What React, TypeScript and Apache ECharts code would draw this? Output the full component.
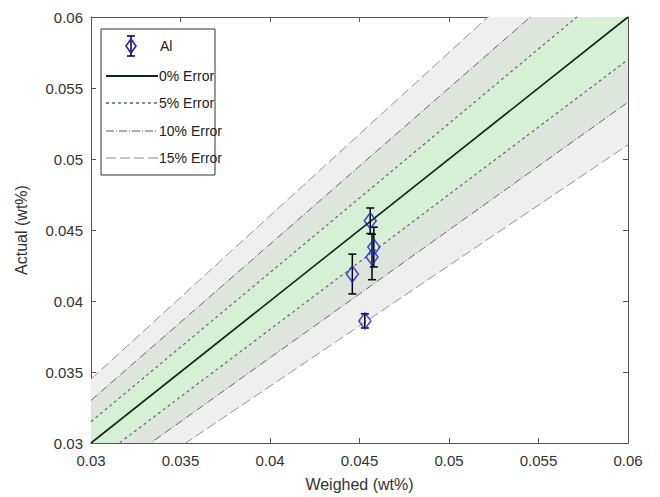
import React, { useEffect, useRef } from "react";
import * as echarts from "echarts";

// Axis ticks
const axisMin = 0.03;
const axisMax = 0.06;
const axisStep = 0.005;

// Error reference levels (%)
const errorLevels = [0, 5, 10, 15];
const errorNames = ["0% Error", "5% Error", "10% Error", "15% Error"];

// Al measurements
const weighed = [0.0456, 0.0458, 0.0457, 0.0446, 0.0453];
const actual = [0.04565, 0.0438, 0.0431, 0.0419, 0.0386];
const errBar = [0.0009, 0.0014, 0.0016, 0.0014, 0.0005];

const bandColors = ["#d6efd6", "#dde5dd", "#efefef"];

const FONT = "Liberation Sans, Arial, sans-serif";

export default function App() {
  const ref = useRef<HTMLDivElement>(null);
  useEffect(() => {
    const chart = echarts.init(ref.current!, null, { renderer: "svg" });

    // bands: [lowFactor, highFactor, colorIdx]
    const bands: number[][] = [];
    for (let i = errorLevels.length - 1; i >= 1; i--) {
      const a = errorLevels[i - 1] / 100;
      const b = errorLevels[i] / 100;
      bands.push([1 + a, 1 + b, i - 1]);
      bands.push([1 - b, 1 - a, i - 1]);
    }

    const fmt = (v: number) => String(+v.toFixed(3));

    const lineStyles: any[] = [
      { color: "#0f2a12", width: 1.6, type: "solid" },
      { color: "#5a6a5a", width: 1.1, type: [3, 3] },
      { color: "#5a5a5a", width: 0.9, type: [8, 2, 1, 2] },
      { color: "#8a8a8a", width: 0.9, type: [10, 4] },
    ];

    const lineSeries: any[] = [];
    errorLevels.forEach((lvl, i) => {
      const fs = lvl === 0 ? [1] : [1 + lvl / 100, 1 - lvl / 100];
      fs.forEach((f) => {
        lineSeries.push({
          type: "line",
          name: errorNames[i],
          data: [
            [axisMin, axisMin * f],
            [axisMax, axisMax * f],
          ],
          symbol: "none",
          lineStyle: lineStyles[i],
          clip: true,
          silent: true,
          z: 3,
        });
      });
    });

    const pts = weighed.map((x, i) => [x, actual[i], errBar[i]]);

    const axisCommon = {
      min: axisMin,
      max: axisMax,
      interval: axisStep,
      splitLine: { show: false },
      axisLine: { show: true, onZero: false, lineStyle: { color: "#555", width: 1 } },
      axisTick: { show: true, inside: true, length: 5, lineStyle: { color: "#555" } },
    };

    const legendX = 101;
    const legendY = 29;
    const rowY = [46, 76, 103, 131, 158];
    const legendGraphics: any[] = [
      {
        type: "rect",
        shape: { x: legendX, y: legendY, width: 114, height: 146 },
        style: { fill: "#fff", stroke: "#333", lineWidth: 1 },
        z: 100,
      },
      // Al icon
      { type: "line", shape: { x1: 131, y1: 36, x2: 131, y2: 56 }, style: { stroke: "#000", lineWidth: 1.5 }, z: 101 },
      { type: "line", shape: { x1: 127, y1: 36, x2: 135, y2: 36 }, style: { stroke: "#000", lineWidth: 1.5 }, z: 101 },
      { type: "line", shape: { x1: 127, y1: 56, x2: 135, y2: 56 }, style: { stroke: "#000", lineWidth: 1.5 }, z: 101 },
      {
        type: "polygon",
        shape: { points: [[131, 39], [136, 46], [131, 53], [126, 46]] },
        style: { fill: "none", stroke: "#2222cc", lineWidth: 1.6 },
        z: 102,
      },
      {
        type: "text",
        x: 160,
        y: rowY[0],
        style: { text: "Al", font: `14px ${FONT}`, fill: "#222", verticalAlign: "middle" },
        z: 101,
      },
    ];
    errorLevels.forEach((_, i) => {
      legendGraphics.push({
        type: "line",
        shape: { x1: 106, y1: rowY[i + 1], x2: 158, y2: rowY[i + 1] },
        style: { stroke: lineStyles[i].color, lineWidth: lineStyles[i].width + 0.2, lineDash: lineStyles[i].type === "solid" ? null : lineStyles[i].type },
        z: 101,
      });
      legendGraphics.push({
        type: "text",
        x: 159,
        y: rowY[i + 1],
        style: { text: errorNames[i], font: `14px ${FONT}`, fill: "#222", verticalAlign: "middle" },
        z: 101,
      });
    });

    chart.setOption({
      animation: false,
      backgroundColor: "#fff",
      textStyle: { fontFamily: FONT },
      grid: { left: 91, right: 32, top: 17, bottom: 54, containLabel: false },
      xAxis: [
        {
          ...axisCommon,
          type: "value",
          position: "bottom",
          name: "Weighed (wt%)",
          nameLocation: "middle",
          nameGap: 33,
          nameTextStyle: { fontSize: 16, color: "#333", fontFamily: FONT },
          axisLabel: { formatter: fmt, fontSize: 15, color: "#333", margin: 10, fontFamily: FONT },
        },
        {
          ...axisCommon,
          type: "value",
          position: "top",
          axisLabel: { show: false },
        },
      ],
      yAxis: [
        {
          ...axisCommon,
          type: "value",
          position: "left",
          name: "Actual (wt%)",
          nameLocation: "middle",
          nameGap: 62,
          nameTextStyle: { fontSize: 16, color: "#333", fontFamily: FONT },
          axisLabel: { formatter: fmt, fontSize: 15, color: "#333", margin: 8, fontFamily: FONT },
        },
        {
          ...axisCommon,
          type: "value",
          position: "right",
          axisLabel: { show: false },
        },
      ],
      graphic: legendGraphics,
      series: [
        {
          type: "custom",
          name: "bands",
          silent: true,
          clip: true,
          z: 1,
          data: bands,
          renderItem: (params: any, api: any) => {
            const lo = api.value(0);
            const hi = api.value(1);
            const ci = api.value(2);
            const p1 = api.coord([axisMin, axisMin * lo]);
            const p2 = api.coord([axisMax, axisMax * lo]);
            const p3 = api.coord([axisMax, axisMax * hi]);
            const p4 = api.coord([axisMin, axisMin * hi]);
            return {
              type: "polygon",
              shape: { points: [p1, p2, p3, p4] },
              style: { fill: bandColors[ci], stroke: "none" },
            };
          },
        },
        ...lineSeries,
        {
          type: "custom",
          name: "Al error",
          z: 5,
          data: pts,
          renderItem: (params: any, api: any) => {
            const x = api.value(0);
            const y = api.value(1);
            const e = api.value(2);
            const top = api.coord([x, y + e]);
            const bot = api.coord([x, y - e]);
            const hw = 4;
            const st = { stroke: "#000", lineWidth: 1.5 };
            return {
              type: "group",
              children: [
                { type: "line", shape: { x1: top[0], y1: top[1], x2: bot[0], y2: bot[1] }, style: st },
                { type: "line", shape: { x1: top[0] - hw, y1: top[1], x2: top[0] + hw, y2: top[1] }, style: st },
                { type: "line", shape: { x1: bot[0] - hw, y1: bot[1], x2: bot[0] + hw, y2: bot[1] }, style: st },
              ],
            };
          },
        },
        {
          type: "scatter",
          name: "Al",
          z: 6,
          data: pts.map((p) => [p[0], p[1]]),
          symbol: "diamond",
          symbolSize: [12, 16],
          itemStyle: { color: "rgba(0,0,0,0)", borderColor: "#2222cc", borderWidth: 1.6 },
        },
      ],
    });
    return () => chart.dispose();
  }, []);
  return <div ref={ref} style={{ width: 660, height: 497, marginLeft: -8, marginTop: -8 }} />;
}
